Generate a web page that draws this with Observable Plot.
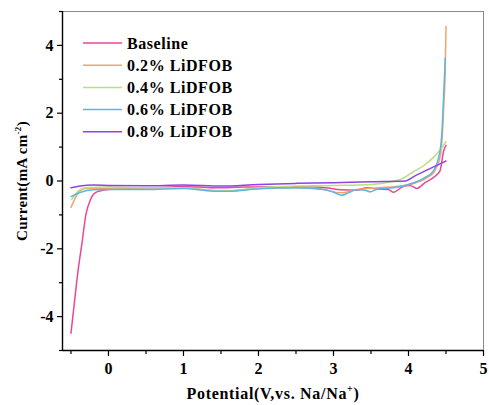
<!DOCTYPE html>
<html><head><meta charset="utf-8">
<script src="https://cdn.jsdelivr.net/npm/d3@7"></script>
<script src="https://cdn.jsdelivr.net/npm/@observablehq/plot@0.6"></script>
<style>
body{margin:0;background:#fff}
#chart{position:relative;width:489px;height:405px}
#legend{position:absolute;left:0;top:0}
</style>
</head><body><div id="chart"></div>
<script>
const seriesNames = ["Baseline", "0.2% LiDFOB", "0.4% LiDFOB", "0.6% LiDFOB", "0.8% LiDFOB"];
const seriesColors = ["#e8479b", "#f0a66a", "#b8e07c", "#5cb6e6", "#9142e0"];

const baseline = [[-0.5,-4.49],[-0.44,-3.3],[-0.4,-2.55],[-0.355,-1.86],[-0.3,-0.98],[-0.24,-0.55],[-0.2,-0.39],[-0.13,-0.3],[0,-0.25],[0.3,-0.22],[0.6,-0.2],[1.0,-0.16],[1.4,-0.2],[1.8,-0.18],[2.2,-0.17],[2.6,-0.17],[2.9,-0.2],[3.1,-0.26],[3.3,-0.27],[3.45,-0.2],[3.6,-0.24],[3.73,-0.25],[3.8,-0.33],[3.93,-0.16],[4.02,-0.13],[4.11,-0.22],[4.22,-0.05],[4.33,0.1],[4.42,0.3],[4.47,0.9],[4.5,1.05]];
const lidfob02 = [[-0.5,-0.78],[-0.44,-0.49],[-0.38,-0.29],[-0.3,-0.22],[0,-0.22],[0.5,-0.2],[1.0,-0.2],[1.4,-0.28],[1.6,-0.3],[2.0,-0.22],[2.5,-0.2],[2.8,-0.22],[3.1,-0.35],[3.3,-0.26],[3.6,-0.2],[3.9,-0.15],[4.1,-0.05],[4.25,0.1],[4.35,0.3],[4.42,0.7],[4.45,1.3],[4.47,2.2],[4.49,3.3],[4.5,4.56]];
const lidfob04 = [[-0.49,-0.54],[-0.4,-0.29],[-0.31,-0.2],[0,-0.18],[0.5,-0.2],[1.0,-0.2],[1.3,-0.27],[1.6,-0.28],[2.0,-0.2],[2.5,-0.15],[3.0,-0.13],[3.5,-0.1],[3.9,0.05],[4.07,0.28],[4.2,0.45],[4.33,0.69],[4.45,1.0],[4.5,1.16]];
const lidfob06 = [[-0.5,-0.46],[-0.38,-0.34],[-0.2,-0.26],[0,-0.25],[0.5,-0.25],[1.0,-0.22],[1.4,-0.3],[1.6,-0.3],[2.0,-0.23],[2.5,-0.2],[2.87,-0.25],[3.0,-0.33],[3.11,-0.42],[3.2,-0.35],[3.31,-0.25],[3.42,-0.27],[3.49,-0.32],[3.55,-0.27],[3.62,-0.23],[3.8,-0.2],[4.07,-0.05],[4.2,0.08],[4.33,0.29],[4.42,0.88],[4.45,1.6],[4.47,2.6],[4.49,3.63]];
const lidfob08 = [[-0.5,-0.2],[-0.38,-0.15],[-0.2,-0.12],[0,-0.13],[0.5,-0.14],[1.0,-0.12],[1.5,-0.15],[2.0,-0.1],[2.5,-0.07],[3.0,-0.05],[3.5,-0.02],[3.96,0.0],[4.07,0.13],[4.3,0.38],[4.5,0.59]];

const xMajorTicks = [0, 1, 2, 3, 4, 5];
const xMinorTicks = [-0.5, 0.5, 1.5, 2.5, 3.5, 4.5];
const yMajorTicks = [-4, -2, 0, 2, 4];
const yMinorTicks = [-5, -3, -1, 1, 3, 5];
const xDomain = [-0.613, 5];
const yDomain = [-5, 5];

const allSeries = [baseline, lidfob02, lidfob04, lidfob06, lidfob08];
const data = [];
allSeries.forEach((pts, i) => pts.forEach(([x, y]) => data.push({series: seriesNames[i], x, y})));

const font = "'Liberation Serif', 'Times New Roman', serif";
const chart = Plot.plot({
  width: 489, height: 405,
  marginLeft: 62, marginRight: 6, marginTop: 11, marginBottom: 55,
  style: {fontFamily: font, fontWeight: "bold", fontSize: "16px", color: "black", background: "white"},
  x: {domain: xDomain, label: null},
  y: {domain: yDomain, label: null},
  color: {domain: seriesNames, range: seriesColors},
  marks: [
    Plot.frame({stroke: "#888", strokeWidth: 1}),
    Plot.line(data, {x: "x", y: "y", z: "series", stroke: "series", strokeWidth: 1.5, curve: "monotone-x"}),
    Plot.ruleX([xDomain[0]], {stroke: "black", strokeWidth: 1.4}),
    Plot.ruleY([yDomain[0]], {stroke: "black", strokeWidth: 1.4}),
    Plot.axisX({ticks: xMajorTicks, tickSize: 6, tickPadding: 6, tickFormat: d => String(d), label: null, strokeWidth: 1.2}),
    Plot.axisX({ticks: xMinorTicks, tickSize: 4, tickFormat: () => "", label: null, strokeWidth: 1.2}),
    Plot.axisY({ticks: yMajorTicks, tickSize: 5, tickPadding: 4, tickFormat: d => String(d), label: null, strokeWidth: 1.2}),
    Plot.axisY({ticks: yMinorTicks, tickSize: 3, tickFormat: () => "", label: null, strokeWidth: 1.2})
  ]
});
const host = document.getElementById("chart");
host.appendChild(chart);

// axis titles with superscripts
const svg = d3.select(chart);
const xt = svg.append("text").attr("x", 273).attr("y", 399).attr("text-anchor", "middle")
  .attr("font-family", font).attr("font-weight", "bold").attr("font-size", 16)
  .attr("letter-spacing", 0.7).attr("fill", "black");
xt.append("tspan").text("Potential(V,vs. Na/Na");
xt.append("tspan").attr("font-size", 10).attr("dy", -7).text("+");
xt.append("tspan").attr("dy", 7).text(")");

const yt = svg.append("text").attr("transform", "translate(27,181) rotate(-90)").attr("text-anchor", "middle")
  .attr("font-family", font).attr("font-weight", "bold").attr("font-size", 15)
  .attr("letter-spacing", 0.3).attr("fill", "black");
yt.append("tspan").text("Current(mA cm");
yt.append("tspan").attr("font-size", 9).attr("dy", -6).text("-2");
yt.append("tspan").attr("dy", 6).text(")");

// legend
const leg = d3.select(host).append("svg").attr("id", "legend").attr("width", 489).attr("height", 160);
seriesNames.forEach((name, i) => {
  const cy = 43 + i * 22.2;
  leg.append("line").attr("x1", 83).attr("x2", 122).attr("y1", cy).attr("y2", cy)
    .attr("stroke", seriesColors[i]).attr("stroke-width", 1.5);
  leg.append("text").attr("x", 127).attr("y", cy + 5.5).text(name)
    .attr("font-family", font).attr("font-weight", "bold").attr("font-size", 16)
    .attr("letter-spacing", 0.55).attr("fill", "black");
});
</script>
</body></html>
